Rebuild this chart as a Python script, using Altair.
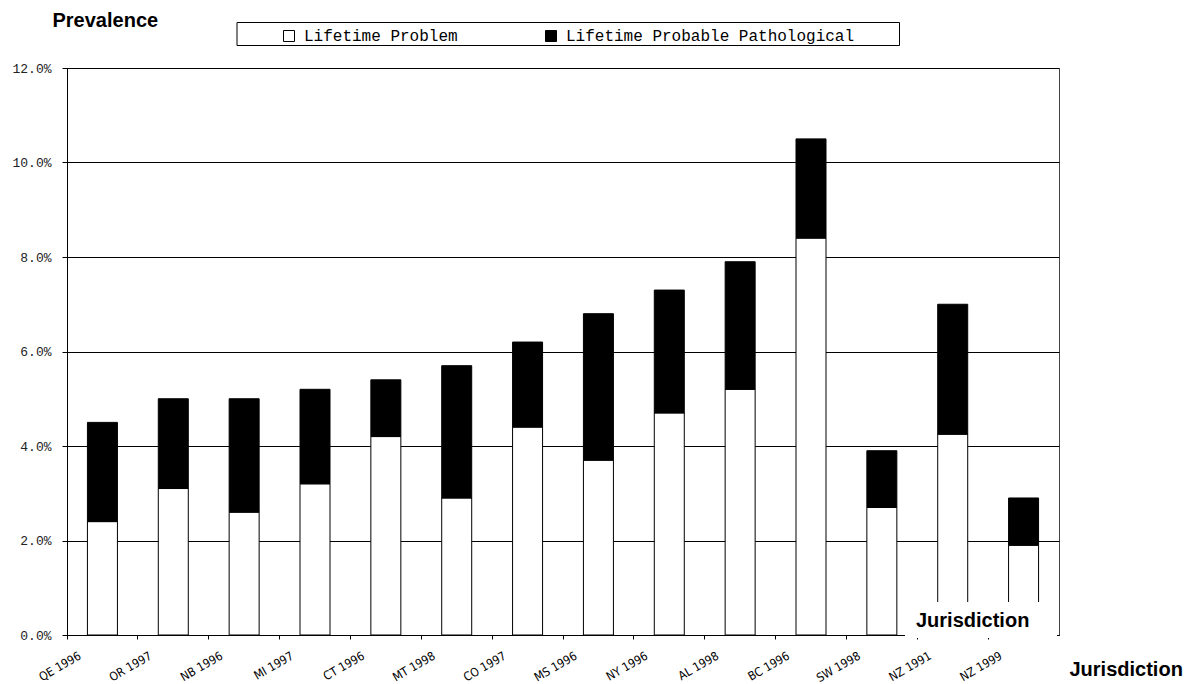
import altair as alt
import pandas as pd

# Survey jurisdictions, in plotting order
jurisdictions = [
    "QE 1996", "OR 1997", "NB 1996", "MI 1997", "CT 1996", "MT 1998", "CO 1997",
    "MS 1996", "NY 1996", "AL 1998", "BC 1996", "SW 1998", "NZ 1991", "NZ 1999",
]

# Lifetime prevalence (%) of problem gambling (bottom segment)
problem = [2.4, 3.1, 2.6, 3.2, 4.2, 2.9, 4.4, 3.7, 4.7, 5.2, 8.4, 2.7, 4.25, 1.9]

# Lifetime prevalence (%) of probable pathological gambling (top segment)
pathological = [2.1, 1.9, 2.4, 2.0, 1.2, 2.8, 1.8, 3.1, 2.6, 2.7, 2.1, 1.2, 2.75, 1.0]

series = ["Lifetime Problem", "Lifetime Probable Pathological"]
y_ticks = [0, 2, 4, 6, 8, 10, 12]

rows = []
for j, p, q in zip(jurisdictions, problem, pathological):
    rows.append({"jurisdiction": j, "series": series[0], "value": p, "rank": 0})
    rows.append({"jurisdiction": j, "series": series[1], "value": q, "rank": 1})
df = pd.DataFrame(rows)

W, H = 992, 567
SANS = "Liberation Sans, Arial, Helvetica, sans-serif"
SPACED = "Liberation Mono, DejaVu Sans Mono, monospace"
NARROW = "Liberation Sans Narrow, DejaVu Sans Condensed, Liberation Sans, sans-serif"

bars = alt.Chart(df).mark_bar(size=30, stroke="black", strokeWidth=1).encode(
    x=alt.X(
        "jurisdiction:N",
        sort=jurisdictions,
        scale=alt.Scale(paddingInner=0, paddingOuter=0),
        axis=alt.Axis(
            title="Jurisdiction",
            bandPosition=0,
            labelAngle=-30,
            labelAlign="right",
            labelBaseline="top",
            labelOffset=-25,
            labelPadding=11,
            labelOverlap=False,
            labelFont=NARROW,
            labelFontSize=12,
            labelColor="black",
            tickSize=4,
            tickColor="black",
            domainColor="black",
            grid=False,
            titleFont=SANS,
            titleFontSize=20,
            titleFontWeight="bold",
            titleColor="black",
            titleAlign="left",
            titleBaseline="alphabetic",
            titleX=1002,
            titleY=40,
        ),
    ),
    y=alt.Y(
        "value:Q",
        stack="zero",
        scale=alt.Scale(domain=[0, 12], nice=False),
        axis=alt.Axis(
            title="Prevalence",
            values=y_ticks,
            labelExpr="format(datum.value, '.1f') + '%'",
            labelFont=SPACED,
            labelFontSize=13,
            labelColor="#222222",
            labelPadding=11,
            tickSize=5,
            tickColor="black",
            domainColor="black",
            grid=True,
            gridColor="black",
            gridWidth=1,
            gridOpacity=1,
            titleFont=SANS,
            titleFontSize=20,
            titleFontWeight="bold",
            titleColor="black",
            titleAngle=0,
            titleAlign="left",
            titleBaseline="alphabetic",
            titleX=-15,
            titleY=-42,
        ),
    ),
    color=alt.Color(
        "series:N",
        scale=alt.Scale(domain=series, range=["white", "black"]),
        legend=alt.Legend(
            title=None,
            orient="none",
            direction="horizontal",
            legendX=214,
            legendY=-40,
            padding=0,
            symbolType="square",
            symbolSize=121,
            symbolStrokeColor="black",
            symbolStrokeWidth=1,
            labelFont=SPACED,
            labelFontSize=16,
            labelColor="black",
            labelOffset=7,
            labelLimit=400,
            columnPadding=85,
        ),
    ),
    order=alt.Order("rank:Q", sort="ascending"),
)

one_row = pd.DataFrame({"label": ["Jurisdiction"]})

# Frame around the legend
legend_box = alt.Chart(one_row).mark_rect(
    fill="white", stroke="black", strokeWidth=1
).encode(
    x=alt.value(170), x2=alt.value(832.5), y=alt.value(-45.5), y2=alt.value(-22.5)
)

# White caption panel in the lower right of the plot
caption_box = alt.Chart(one_row).mark_rect(fill="white").encode(
    x=alt.value(838), x2=alt.value(990), y=alt.value(534), y2=alt.value(570)
)
caption_text = alt.Chart(one_row).mark_text(
    font=SANS, fontSize=20, fontWeight="bold", align="left",
    baseline="alphabetic", color="black"
).encode(x=alt.value(849), y=alt.value(558.5), text="label:N")

chart = alt.layer(legend_box, bars, caption_box, caption_text).properties(
    width=W,
    height=H,
    padding={"left": 67, "top": 68, "right": 139, "bottom": 49},
    autosize=alt.AutoSizeParams(type="none"),
    background="white",
).configure_view(stroke="#444444", strokeWidth=1)

chart.save("out.html", embed_options={"renderer": "svg", "actions": False})
